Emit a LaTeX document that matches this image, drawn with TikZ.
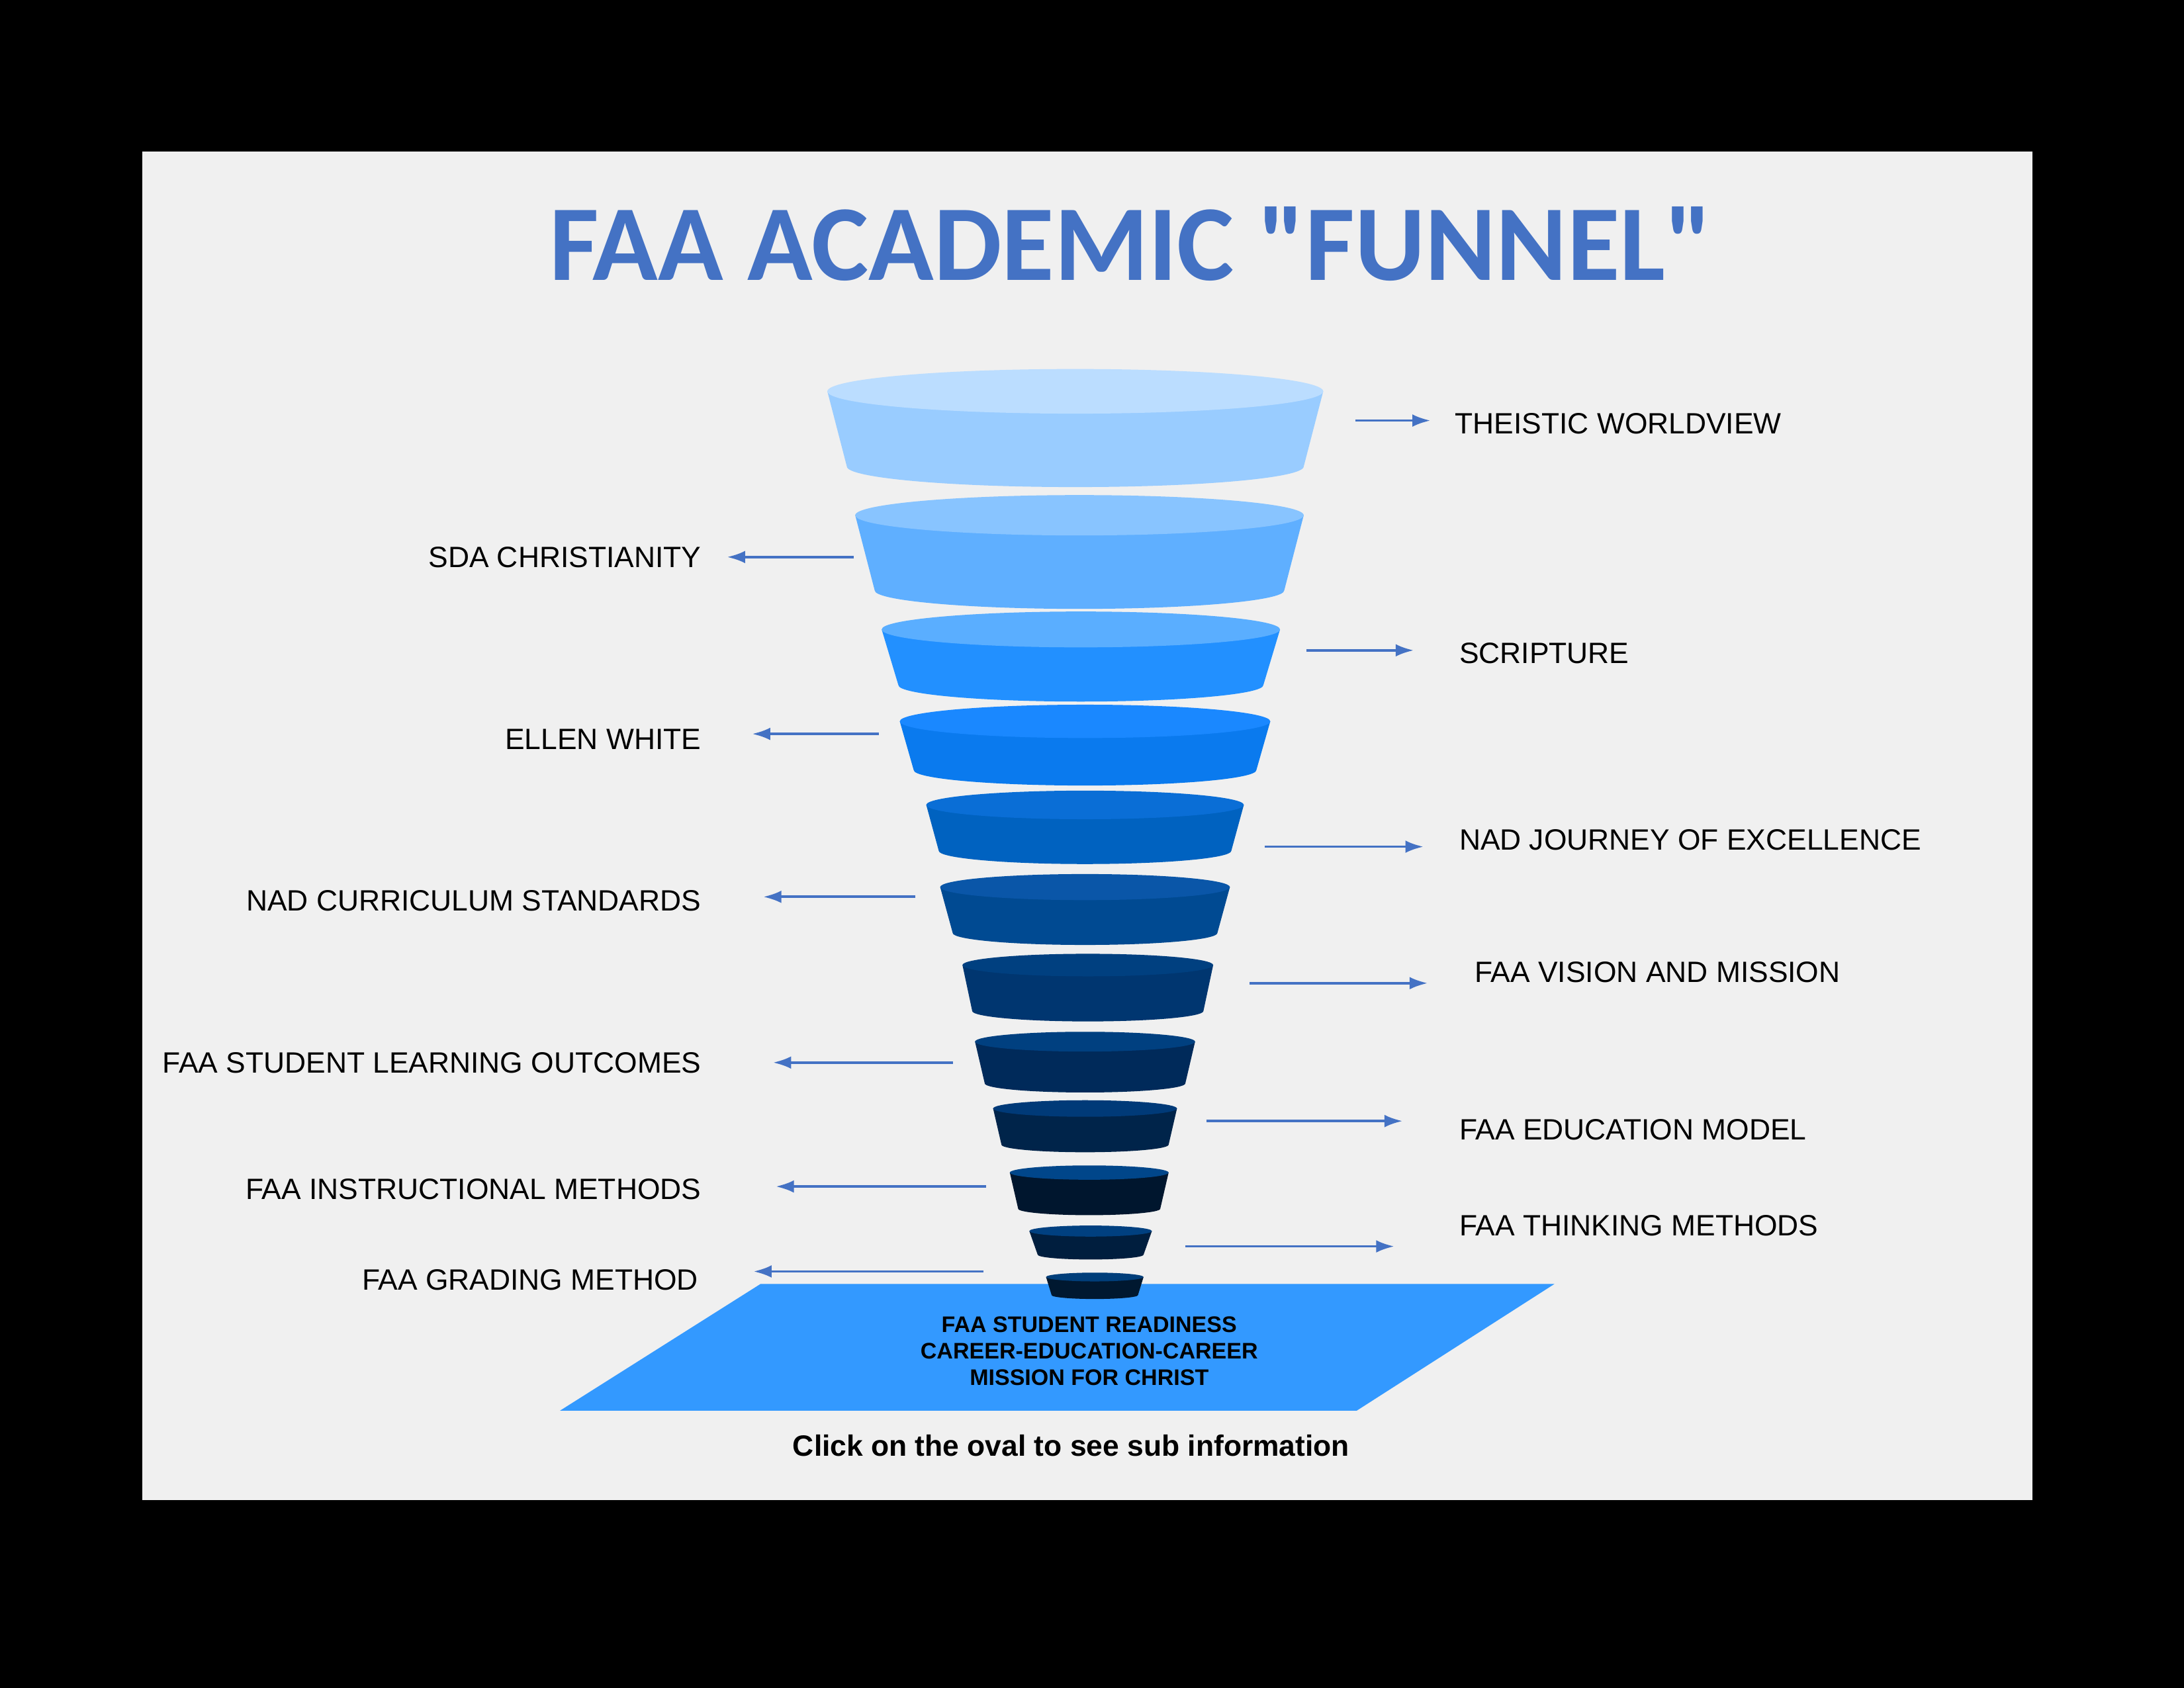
\documentclass[tikz,border=0pt]{standalone}
\usepackage{fontspec}
\setmainfont{Liberation Sans}
\newfontfamily\titlefont{Carlito}
\usetikzlibrary{arrows.meta}

\definecolor{titleblue}{HTML}{4472C4}
\definecolor{panel}{HTML}{F0F0F0}
\definecolor{floorblue}{HTML}{3399FF}

\tikzset{
  arr/.style={titleblue,line width=0.5pt,-{Latex[length=1.3mm,width=0.9mm]}},
  lab/.style={font=\fontsize{6pt}{7pt}\selectfont,inner sep=0pt},
}

% tier: cx, top y, top half width, bottom y, bottom half width, body colour, top colour
\newcommand{\tier}[7]{%
  \definecolor{tierbody}{HTML}{#6}\definecolor{tiertop}{HTML}{#7}%
  \fill[tierbody] (#1-#3,#2) -- (#1-#5,#4) arc[start angle=180,end angle=0,x radius=#5,y radius=0.09*#5]
     -- (#1+#3,#2) -- cycle;
  \fill[tiertop] (#1,#2) ellipse[x radius=#3,y radius=0.09*#3];
}

\begin{document}
\begin{tikzpicture}[x=0.1mm,y=-0.1mm]
\fill[black] (0,0) rectangle (1568,1212);
\fill[panel] (102,109) rectangle (1459,1077);

\node[font=\titlefont\bfseries\fontsize{22pt}{24pt}\selectfont,text=titleblue] (title) at (812,175) {FAA ACADEMIC "FUNNEL"};

% floor
\fill[floorblue] (546,922) -- (1116,922) -- (974,1013) -- (402,1013) -- cycle;
\node[font=\bfseries\fontsize{4.6pt}{5.4pt}\selectfont,align=center] (base) at (782,970)
  {FAA STUDENT READINESS\\CAREER-EDUCATION-CAREER\\MISSION FOR CHRIST};

% funnel tiers
\tier{772}{281}{178}{335}{164}{99CCFF}{BBDDFF}
\tier{775}{370}{161}{424}{147}{5FAFFF}{88C4FF}
\tier{776}{452}{143}{492}{131}{2290FF}{5AAEFF}
\tier{779}{518}{133}{553}{123}{0A7AEE}{1A88FF}
\tier{779}{578}{114}{611}{105}{0062C0}{0A6ED6}
\tier{779}{637}{104}{670}{95}{004A92}{0A56A8}
\tier{781}{693}{90}{726}{83}{003670}{004080}
\tier{779}{748}{79}{778}{72}{002A5A}{004080}
\tier{779}{796}{66}{822}{60}{00244A}{003A78}
\tier{782}{842}{57}{868}{51}{00162E}{00468A}
\tier{783}{884}{44}{901}{38}{001E3E}{004080}
\tier{786}{917}{35}{930}{31}{001830}{003E7A}

% right labels
\node[lab,anchor=west] (theistic) at (1044,304) {THEISTIC WORLDVIEW};
\node[lab,anchor=west] (scripture) at (1047,469) {SCRIPTURE};
\node[lab,anchor=west] (journey) at (1047,603) {NAD JOURNEY OF EXCELLENCE};
\node[lab,anchor=west] (vision) at (1058,698) {FAA VISION AND MISSION};
\node[lab,anchor=west] (model) at (1047,811) {FAA EDUCATION MODEL};
\node[lab,anchor=west] (thinking) at (1047,880) {FAA THINKING METHODS};

% left labels
\node[lab,anchor=east] (sda) at (504,400) {SDA CHRISTIANITY};
\node[lab,anchor=east] (ellen) at (504,531) {ELLEN WHITE};
\node[lab,anchor=east] (curric) at (504,647) {NAD CURRICULUM STANDARDS};
\node[lab,anchor=east] (outcomes) at (504,763) {FAA STUDENT LEARNING OUTCOMES};
\node[lab,anchor=east] (instruct) at (504,854) {FAA INSTRUCTIONAL METHODS};
\node[lab,anchor=east] (grading) at (502,919) {FAA GRADING METHOD};

% arrow ends
\coordinate (a1) at (973,302);  \coordinate (b1) at (1027,302);
\coordinate (a2) at (938,467);  \coordinate (b2) at (1015,467);
\coordinate (a3) at (908,608);  \coordinate (b3) at (1022,608);
\coordinate (a4) at (897,706);  \coordinate (b4) at (1025,706);
\coordinate (a5) at (866,805);  \coordinate (b5) at (1007,805);
\coordinate (a6) at (851,895);  \coordinate (b6) at (1001,895);
\coordinate (c1) at (613,400);  \coordinate (d1) at (522,400);
\coordinate (c2) at (631,527);  \coordinate (d2) at (540,527);
\coordinate (c3) at (657,644);  \coordinate (d3) at (548,644);
\coordinate (c4) at (684,763);  \coordinate (d4) at (555,763);
\coordinate (c5) at (708,852);  \coordinate (d5) at (557,852);
\coordinate (c6) at (706,913);  \coordinate (d6) at (541,913);

\foreach \i in {1,...,6}{
  \draw[arr] (a\i) -- (b\i);
  \draw[arr] (c\i) -- (d\i);
}

\node[font=\bfseries\fontsize{6pt}{7pt}\selectfont] (hint) at (769,1038) {Click on the oval to see sub information};
\end{tikzpicture}
\end{document}
